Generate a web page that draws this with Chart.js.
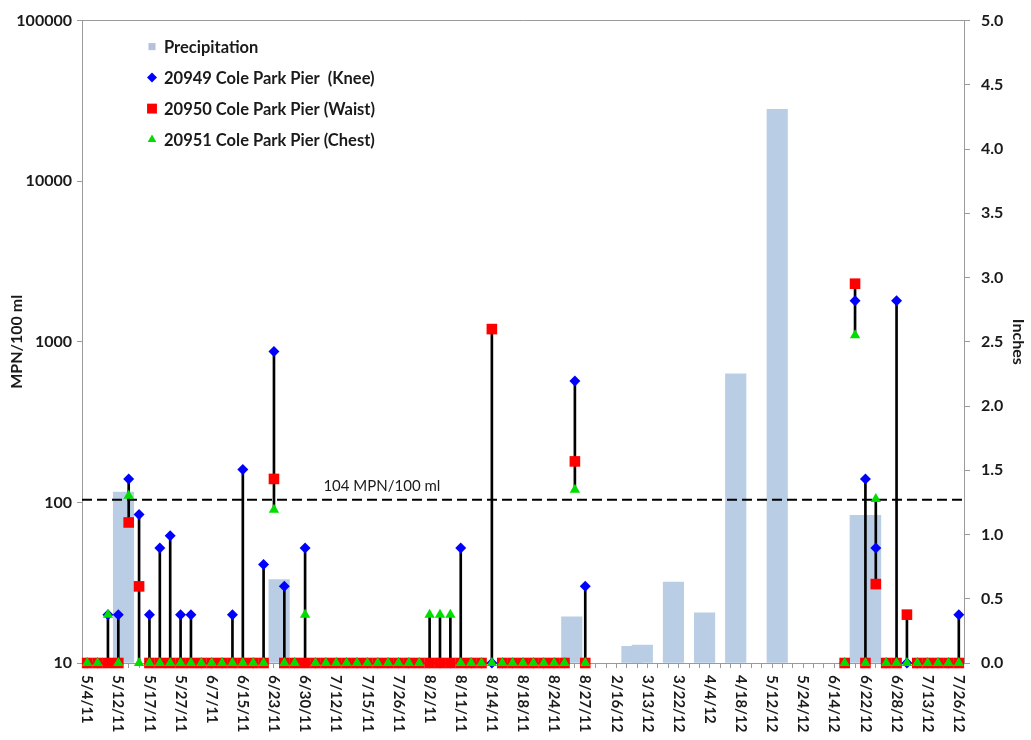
<!DOCTYPE html>
<html>
<head>
<meta charset="utf-8">
<title>Cole Park Pier - Enterococcus and Precipitation</title>
<script src="https://cdn.jsdelivr.net/npm/chart.js@4.4.1/dist/chart.umd.min.js"></script>
<style>
  html, body { margin: 0; padding: 0; background: #fff; }
  #wrap { width: 1031px; height: 740px; position: relative; }
</style>
</head>
<body>
<div id="wrap"><canvas id="chart"></canvas></div>
<script>
// ==========================================
// DATA
// ==========================================
// Only every third sampling day carries a label on the axis
const dateLabels = [
  '5/4/11', '5/12/11', '5/17/11', '5/27/11', '6/7/11', '6/15/11', '6/23/11', '6/30/11',
  '7/12/11', '7/15/11', '7/26/11', '8/2/11', '8/11/11', '8/14/11', '8/18/11', '8/24/11',
  '8/27/11', '2/16/12', '3/13/12', '3/22/12', '4/4/12', '4/18/12', '5/12/12', '5/24/12',
  '6/14/12', '6/22/12', '6/28/12', '7/13/12', '7/26/12'
];
const LABEL_EVERY = 3;
const N = 85;

// MPN/100 ml, 10 = non-detect plotted on the floor, null = not sampled
const knee = [
  10, 10, 20, 20, 140, 84, 20, 52, 62, 20,
  20, 10, 10, 10, 20, 160, 10, 41, 870, 30,
  10, 52, 10, 10, 10, 10, 10, 10, 10, 10,
  10, 10, 10, 10, 10, 10, 52, 10, 10, 10,
  10, 10, 10, 10, 10, 10, 10, 570, 30, null,
  null, null, null, null, null, null, null, null, null, null,
  null, null, null, null, null, null, null, null, null, null,
  null, null, null, 10, 1800, 140, 52, 10, 1800, 10,
  10, 10, 10, 10, 20
];
const waist = [
  10, 10, 10, 10, 75, 30, 10, 10, 10, 10,
  10, 10, 10, 10, 10, 10, 10, 10, 140, 10,
  10, 10, 10, 10, 10, 10, 10, 10, 10, 10,
  10, 10, 10, 10, 10, 10, 10, 10, 10, 1200,
  10, 10, 10, 10, 10, 10, 10, 180, 10, null,
  null, null, null, null, null, null, null, null, null, null,
  null, null, null, null, null, null, null, null, null, null,
  null, null, null, 10, 2300, 10, 31, 10, 10, 20,
  10, 10, 10, 10, 10
];
const chest = [
  10, 10, 20, 10, 110, 10, 10, 10, 10, 10,
  10, 10, 10, 10, 10, 10, 10, 10, 90, 10,
  10, 20, 10, 10, 10, 10, 10, 10, 10, 10,
  10, 10, 10, 20, 20, 20, 10, 10, 10, 10,
  10, 10, 10, 10, 10, 10, 10, 120, 10, null,
  null, null, null, null, null, null, null, null, null, null,
  null, null, null, null, null, null, null, null, null, null,
  null, null, null, 10, 1100, 10, 105, 10, 10, 10,
  10, 10, 10, 10, 10
];

// precipitation falls between sampling days -> fractional category index
const precipPos = [3.5, 18.5, 46.7, 52.5, 53.5, 56.5, 59.5, 62.5, 66.5, 74.5, 75.5];
const precipInches = [1.33, 0.65, 0.36, 0.13, 0.14, 0.63, 0.39, 2.25, 4.31, 1.15, 1.15];

const threshold = 104;
const thresholdText = '104 MPN/100 ml';
const thresholdTextPos = 28.4;
const decadeTicks = [10, 100, 1000, 10000, 100000];

// --- built from the arrays above ---
const categories = Array.from({ length: N }, (_, i) =>
  i % LABEL_EVERY === 0 ? dateLabels[i / LABEL_EVERY] : '');

// high-low line: from the lowest to the highest sample of the day
const highLow = knee.map((k, i) => {
  const vals = [k, waist[i], chest[i]].filter(v => v != null);
  return vals.length ? [Math.min(...vals), Math.max(...vals)] : null;
});

const AXIS_GREY = '#9a9a9a';
const FONT = 'Lato';
Chart.defaults.font.family = FONT;
Chart.defaults.color = '#1a1a1a';

// ==========================================
// LEGEND, ROTATED DATES AND THRESHOLD LABEL
// ==========================================
const legendItems = [
  { text: 'Precipitation', style: 'rect', radius: 5, color: '#b4c2dc' },
  { text: '20949 Cole Park Pier  (Knee)', style: 'rectRot', radius: 5, color: '#0000ff' },
  { text: '20950 Cole Park Pier (Waist)', style: 'rect', radius: 7, color: '#ff0000' },
  { text: '20951 Cole Park Pier (Chest)', style: 'triangle', radius: 5, color: '#00dd00' }
];

const extrasPlugin = {
  id: 'extras',
  afterDraw(chart) {
    const { ctx, chartArea: area, scales } = chart;
    ctx.save();

    // legend inside the plot, top left
    ctx.font = `bold 16.5px ${FONT}`;
    ctx.textAlign = 'left';
    ctx.textBaseline = 'middle';
    legendItems.forEach((item, k) => {
      const y = area.top + 26 + k * 31;
      const x = area.left + 70;
      ctx.fillStyle = item.color;
      ctx.strokeStyle = item.color;
      Chart.helpers.drawPoint(ctx, { pointStyle: item.style, radius: item.radius, rotation: 0, borderWidth: 0 }, x, y);
      ctx.fillStyle = '#1a1a1a';
      ctx.fillText(item.text, x + 12, y + 1);
    });

    // date labels, turned clockwise
    ctx.font = `bold 15px ${FONT}`;
    ctx.fillStyle = '#1a1a1a';
    categories.forEach((lab, i) => {
      if (!lab) return;
      const x = scales.x.getPixelForValue(i);
      ctx.save();
      ctx.translate(x, area.bottom + 12);
      ctx.rotate(Math.PI / 2);
      ctx.textAlign = 'left';
      ctx.textBaseline = 'middle';
      ctx.fillText(lab, 0, 0);
      ctx.restore();
    });

    // threshold label above the dashed line
    ctx.font = `15px ${FONT}`;
    ctx.textAlign = 'center';
    ctx.textBaseline = 'bottom';
    ctx.fillText(thresholdText, scales.xp.getPixelForValue(thresholdTextPos), scales.y.getPixelForValue(threshold) - 6);

    ctx.restore();
  }
};

// ==========================================
// CHART
// ==========================================
const markerBase = { type: 'line', xAxisID: 'x', yAxisID: 'y', showLine: false, clip: false, pointBorderWidth: 0 };

new Chart(document.getElementById('chart'), {
  data: {
    labels: categories,
    datasets: [
      {
        type: 'bar',
        label: 'Precipitation',
        xAxisID: 'xp',
        yAxisID: 'yr',
        data: precipPos.map((p, i) => ({ x: p, y: precipInches[i] })),
        backgroundColor: '#b9cde5',
        barThickness: 20.5,
        grouped: false,
        order: 10
      },
      {
        type: 'bar',
        label: 'range',
        xAxisID: 'x',
        yAxisID: 'y',
        data: highLow,
        backgroundColor: '#000',
        barThickness: 2,
        grouped: false,
        order: 5
      },
      {
        type: 'line',
        label: 'threshold',
        xAxisID: 'xp',
        yAxisID: 'y',
        data: [{ x: -0.5, y: threshold }, { x: N - 0.5, y: threshold }],
        borderColor: '#000',
        borderWidth: 2,
        borderDash: [10, 5],
        pointRadius: 0,
        order: 4
      },
      {
        ...markerBase,
        label: '20949 Cole Park Pier  (Knee)',
        data: knee,
        pointStyle: 'rectRot',
        pointRadius: 5.5,
        backgroundColor: '#0000ff',
        borderColor: '#0000ff',
        order: 3
      },
      {
        ...markerBase,
        label: '20950 Cole Park Pier (Waist)',
        data: waist,
        pointStyle: 'rect',
        pointRadius: 7.5,
        backgroundColor: '#ff0000',
        borderColor: '#ff0000',
        order: 2
      },
      {
        ...markerBase,
        label: '20951 Cole Park Pier (Chest)',
        data: chest,
        pointStyle: 'triangle',
        pointRadius: 6,
        backgroundColor: '#00dd00',
        borderColor: '#00dd00',
        order: 1
      }
    ]
  },
  options: {
    responsive: true,
    maintainAspectRatio: false,
    animation: false,
    events: [],
    layout: { padding: { top: 15, left: 0, right: 0, bottom: 0 } },
    plugins: {
      legend: { display: false },
      tooltip: { enabled: false }
    },
    scales: {
      x: {
        type: 'category',
        offset: true,
        grid: { drawOnChartArea: false, offset: false, tickLength: 5, color: AXIS_GREY },
        border: { color: AXIS_GREY },
        ticks: { display: false },
        afterFit: s => { s.height = 77; }
      },
      xp: {
        type: 'linear',
        min: -0.5,
        max: N - 0.5,
        offset: false,
        display: false
      },
      y: {
        type: 'logarithmic',
        position: 'left',
        min: 10,
        max: 100000,
        afterBuildTicks: s => { s.ticks = decadeTicks.map(v => ({ value: v })); },
        ticks: {
          callback: v => String(v),
          font: { size: 16, weight: 'bold' },
          color: '#1a1a1a',
          padding: 5
        },
        grid: {
          drawOnChartArea: true,
          color: c => (c.tick && c.tick.value === 100000 ? AXIS_GREY : 'rgba(0,0,0,0)'),
          tickColor: AXIS_GREY,
          tickLength: 5
        },
        border: { color: AXIS_GREY },
        title: {
          display: true,
          text: 'MPN/100 ml',
          font: { size: 16, weight: 'bold' },
          color: '#1a1a1a',
          padding: { top: 7, bottom: 0 }
        },
        afterFit: s => { s.width = 82; }
      },
      yr: {
        type: 'linear',
        position: 'right',
        min: 0,
        max: 5,
        ticks: {
          stepSize: 0.5,
          callback: v => v.toFixed(1),
          font: { size: 16, weight: 'bold' },
          color: '#1a1a1a',
          padding: 11
        },
        grid: { drawOnChartArea: false, tickLength: 6, color: AXIS_GREY },
        border: { color: AXIS_GREY },
        title: {
          display: true,
          text: 'Inches',
          font: { size: 16, weight: 'bold' },
          color: '#1a1a1a',
          padding: { top: 3, bottom: 0 }
        },
        afterFit: s => { s.width = 67; }
      }
    }
  },
  plugins: [extrasPlugin]
});
</script>
</body>
</html>
